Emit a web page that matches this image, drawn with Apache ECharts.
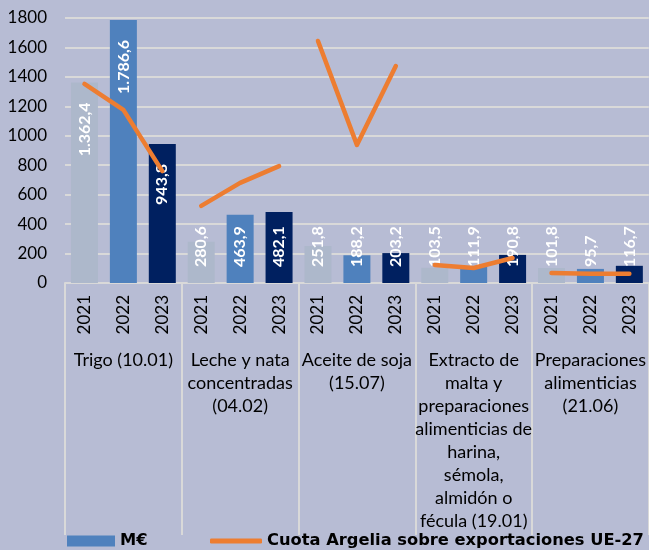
<!DOCTYPE html>
<html>
<head>
<meta charset="utf-8">
<script src="https://cdn.jsdelivr.net/npm/echarts@6/dist/echarts.min.js"></script>
<style>
html,body{margin:0;padding:0;background:#b7bcd4;}
#chart{width:649px;height:550px;}
</style>
</head>
<body>
<div id="chart"></div>
<script>
var groups = ['Trigo (10.01)', 'Leche y nata\nconcentradas\n(04.02)', 'Aceite de soja\n(15.07)', 'Extracto de\nmalta y\npreparaciones\nalimenticias de\nharina,\nsémola,\nalmidón o\nfécula (19.01)', 'Preparaciones\nalimenticias\n(21.06)'];
var years = ['2021', '2022', '2023'];
var valuesME = [1362.4, 1786.6, 943.8, 280.6, 463.9, 482.1, 251.8, 188.2, 203.2, 103.5, 111.9, 190.8, 101.8, 95.7, 116.7];
var cuota = [67.6, 58.8, 38.0, 26.2, 34.0, 39.7, 82.2, 46.9, 73.7, 6.1, 5.1, 8.5, 3.4, 3.1, 3.1];
var yTicks = [0, 200, 400, 600, 800, 1000, 1200, 1400, 1600, 1800];
var yearColors = ['#adb8cb', '#4f81bd', '#002060'];

var FONT = 'Lato';
var LEGFONT = 'DejaVu Sans';
var cats = [];
groups.forEach(function(g, gi){ years.forEach(function(y){ cats.push(y); }); });

function fmt(v){
  var s = v.toFixed(1).split('.');
  var ip = s[0].replace(/\B(?=(\d{3})+(?!\d))/g, '.');
  return ip + ',' + s[1];
}

var barData = valuesME.map(function(v, i){
  var big = v > 600;
  return {
    value: v,
    itemStyle: {color: yearColors[i % 3]},
    label: big ? {position: 'insideTop', distance: 20, align: 'right'} :
                 {position: 'insideBottom', distance: 16, align: 'left'}
  };
});

var lineSeries = groups.map(function(g, gi){
  var d = cuota.map(function(v, i){ return Math.floor(i / 3) === gi ? v : null; });
  return {
    name: 'Cuota Argelia sobre exportaciones UE-27',
    type: 'line', xAxisIndex: 0, yAxisIndex: 1,
    data: d, symbol: 'none', connectNulls: false, z: 5,
    lineStyle: {color: '#ed7d31', width: 4.5, cap: 'round', join: 'round'},
    itemStyle: {color: '#ed7d31'}
  };
});

var chart = echarts.init(document.getElementById('chart'), null, {renderer: 'canvas'});
chart.setOption({
  backgroundColor: '#b7bcd4',
  animation: false,
  textStyle: {fontFamily: FONT},
  grid: {left: 65, right: 0, top: 18, bottom: 267, containLabel: false},
  legend: [{
    left: 67, top: 533, padding: 0, itemWidth: 48, itemHeight: 11, itemGap: 5,
    data: [{name: 'M€', icon: 'rect'}],
    textStyle: {fontFamily: LEGFONT, fontSize: 16.3, fontWeight: 'bold', color: '#000'}
  }, {
    left: 210, top: 533, padding: 0, itemWidth: 52, itemHeight: 5, itemGap: 3,
    data: [{name: 'Cuota Argelia sobre exportaciones UE-27', icon: 'roundRect'}],
    textStyle: {fontFamily: LEGFONT, fontSize: 16.3, fontWeight: 'bold', color: '#000'}
  }],
  xAxis: [{
    type: 'category', data: cats, position: 'bottom',
    axisLine: {show: true, lineStyle: {color: '#d9d9d9', width: 2}},
    axisTick: {show: false},
    axisLabel: {rotate: 90, interval: 0, margin: 12, fontSize: 17, color: '#000', fontFamily: FONT}
  }, {
    type: 'category', data: groups, position: 'bottom',
    axisLine: {show: false},
    axisTick: {show: true, length: 252, alignWithLabel: false, interval: 0, lineStyle: {color: '#d9d9d9', width: 2}},
    axisLabel: {interval: 0, margin: 66, fontSize: 18, lineHeight: 23, color: '#000', fontFamily: FONT, verticalAlign: 'top'}
  }],
  yAxis: [{
    type: 'value', min: 0, max: 1800, interval: 200,
    axisLine: {show: false}, axisTick: {show: false},
    axisLabel: {fontSize: 17, color: '#000', margin: 18, fontFamily: FONT, formatter: function(v){ return String(v); }},
    splitLine: {lineStyle: {color: '#d9d9d9', width: 2}}
  }, {
    type: 'value', min: 0, max: 90, show: false, splitLine: {show: false}
  }],
  series: [{
    name: 'M€', type: 'bar', xAxisIndex: 0, yAxisIndex: 0, barWidth: 27, z: 2,
    itemStyle: {color: '#4f81bd'},
    label: {show: true, rotate: 90, verticalAlign: 'middle', color: '#fff', fontWeight: 'bold', fontSize: 16, fontFamily: FONT,
      formatter: function(p){ return fmt(p.value); }},
    data: barData
  }].concat(lineSeries)
});
</script>
</body>
</html>
